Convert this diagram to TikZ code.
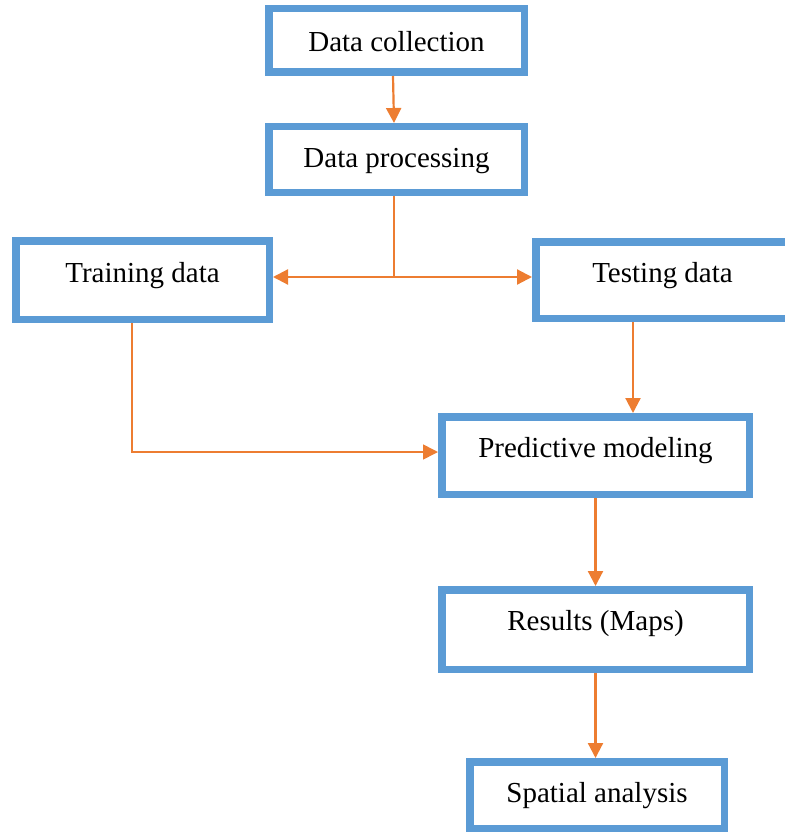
\documentclass[tikz,border=0pt]{standalone}
\usepackage{fontspec}
\setmainfont{Liberation Serif}
\usetikzlibrary{arrows.meta}
\definecolor{boxblue}{HTML}{5B9BD5}
\definecolor{arrorange}{HTML}{ED7D31}
\tikzset{
  stepbox/.style={draw=boxblue, line width=7.5pt, fill=white, inner sep=0pt,
    anchor=base, font=\fontsize{29}{34}\selectfont},
  conn/.style={draw=arrorange, line width=2.2pt},
  arr/.style={conn, -{Triangle[length=15pt,width=15pt]}},
}
\begin{document}
\begin{tikzpicture}[x=1pt,y=-1pt]
\useasboundingbox (0,0) rectangle (784,832);
\node[stepbox, minimum width=255.5pt, text height=43.25pt, text depth=20.25pt] (coll) at (396.5,52) {Data collection};
\node[stepbox, minimum width=255.5pt, text height=40.25pt, text depth=25.25pt] (proc) at (396.5,167) {Data processing};
\node[stepbox, minimum width=253.5pt, text height=41.25pt, text depth=37.25pt] (train) at (142.5,282) {Training data};
\node[stepbox, minimum width=253.5pt, text height=40.25pt, text depth=36.25pt] (test) at (662.5,282) {Testing data};
\node[stepbox, minimum width=307.5pt, text height=40.25pt, text depth=37.25pt] (pred) at (595.5,457) {Predictive modeling};
\node[stepbox, minimum width=307.5pt, text height=40.25pt, text depth=39.25pt] (res) at (595.5,630) {Results (Maps)};
\node[stepbox, minimum width=254.5pt, text height=40.25pt, text depth=26.25pt] (spat) at (597,802) {Spatial analysis};

\coordinate (j) at (394,277);
\draw[arr] ([xshift=-3.5pt]coll.south) -- ([xshift=-2.5pt]proc.north);
\draw[conn] ([xshift=-2.5pt]proc.south) -- (j);
\draw[arr] (j) -- (train.east |- j);
\draw[arr] (j) -- (test.west |- j);
\draw[arr] ([xshift=-29.5pt]test.south) -- ([xshift=-29.5pt]test.south |- pred.north);
\draw[arr, line width=1.6pt] ([xshift=-10.5pt]train.south) |- ([yshift=3.5pt]pred.west);
\draw[arr] (pred.south) -- (res.north);
\draw[arr] (res.south) -- (res.south |- spat.north);
\end{tikzpicture}
\end{document}
